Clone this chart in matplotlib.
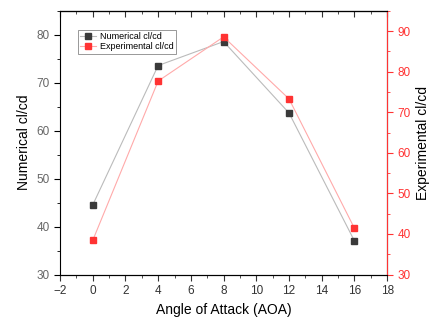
import matplotlib
matplotlib.use('Agg')
import matplotlib.pyplot as plt
from matplotlib.ticker import MultipleLocator

plt.rcParams['font.family'] = ['Liberation Sans', 'DejaVu Sans']

# data
aoa = [0, 4, 8, 12, 16]
numerical = [44.5, 73.6, 78.6, 63.7, 37.0]
experimental = [38.4, 77.7, 88.6, 73.3, 41.4]

red = '#ff3333'

fig = plt.figure(figsize=(4.41, 3.2), dpi=100)
ax = fig.add_axes([0.136, 0.142, 0.742, 0.824])
ax2 = ax.twinx()

l1, = ax.plot(aoa, numerical, color='#bbbbbb', lw=0.8, marker='s', ms=4.5,
              mfc='#3a3a3a', mec='#3a3a3a', label='Numerical cl/cd')
l2, = ax2.plot(aoa, experimental, color='#ffaaaa', lw=0.8, marker='s', ms=4.5,
               mfc=red, mec=red, label='Experimental cl/cd')

ax.set_xlim(-2, 18)
ax.set_ylim(30, 85)
ax2.set_ylim(30, 95)
ax.xaxis.set_major_locator(MultipleLocator(2))
ax.xaxis.set_minor_locator(MultipleLocator(1))
ax.yaxis.set_major_locator(MultipleLocator(10))
ax.yaxis.set_minor_locator(MultipleLocator(5))
ax2.yaxis.set_major_locator(MultipleLocator(10))
ax2.yaxis.set_minor_locator(MultipleLocator(5))

ax.tick_params(axis='x', which='both', labelsize=8.5, colors='#333333')
ax.tick_params(axis='x', which='major', length=4)
ax.tick_params(axis='x', which='minor', length=2.5)
ax.tick_params(axis='y', which='both', labelsize=8.5, labelcolor='#666666')
ax.tick_params(axis='y', which='major', length=4)
ax.tick_params(axis='y', which='minor', length=2.5)
ax2.tick_params(axis='y', which='both', colors=red, labelsize=8.5)
ax2.tick_params(axis='y', which='major', length=4)
ax2.tick_params(axis='y', which='minor', length=2.5)
ax2.spines['right'].set_color(red)
ax2.spines['left'].set_visible(False)

# top ticks pointing inward
top = ax.secondary_xaxis('top')
top.xaxis.set_major_locator(MultipleLocator(2))
top.xaxis.set_minor_locator(MultipleLocator(1))
top.tick_params(axis='x', which='both', direction='in', labeltop=False, colors='#333333')
top.tick_params(axis='x', which='major', length=4)
top.tick_params(axis='x', which='minor', length=2.5)

ax.set_xlabel('Angle of Attack (AOA)', fontsize=10)
ax.set_ylabel('Numerical cl/cd', fontsize=10)
ax2.set_ylabel('Experimental cl/cd', fontsize=10, color='black')

leg = ax2.legend([l1, l2], ['Numerical cl/cd', 'Experimental cl/cd'],
                 loc='upper left', bbox_to_anchor=(0.055, 0.928), fontsize=6.5,
                 frameon=True, fancybox=False, edgecolor='#888888',
                 borderpad=0.25, labelspacing=0.15, handlelength=1.8,
                 handletextpad=0.4, borderaxespad=0, framealpha=1)
leg.get_frame().set_linewidth(0.6)

fig.savefig('out.png', dpi=100)
